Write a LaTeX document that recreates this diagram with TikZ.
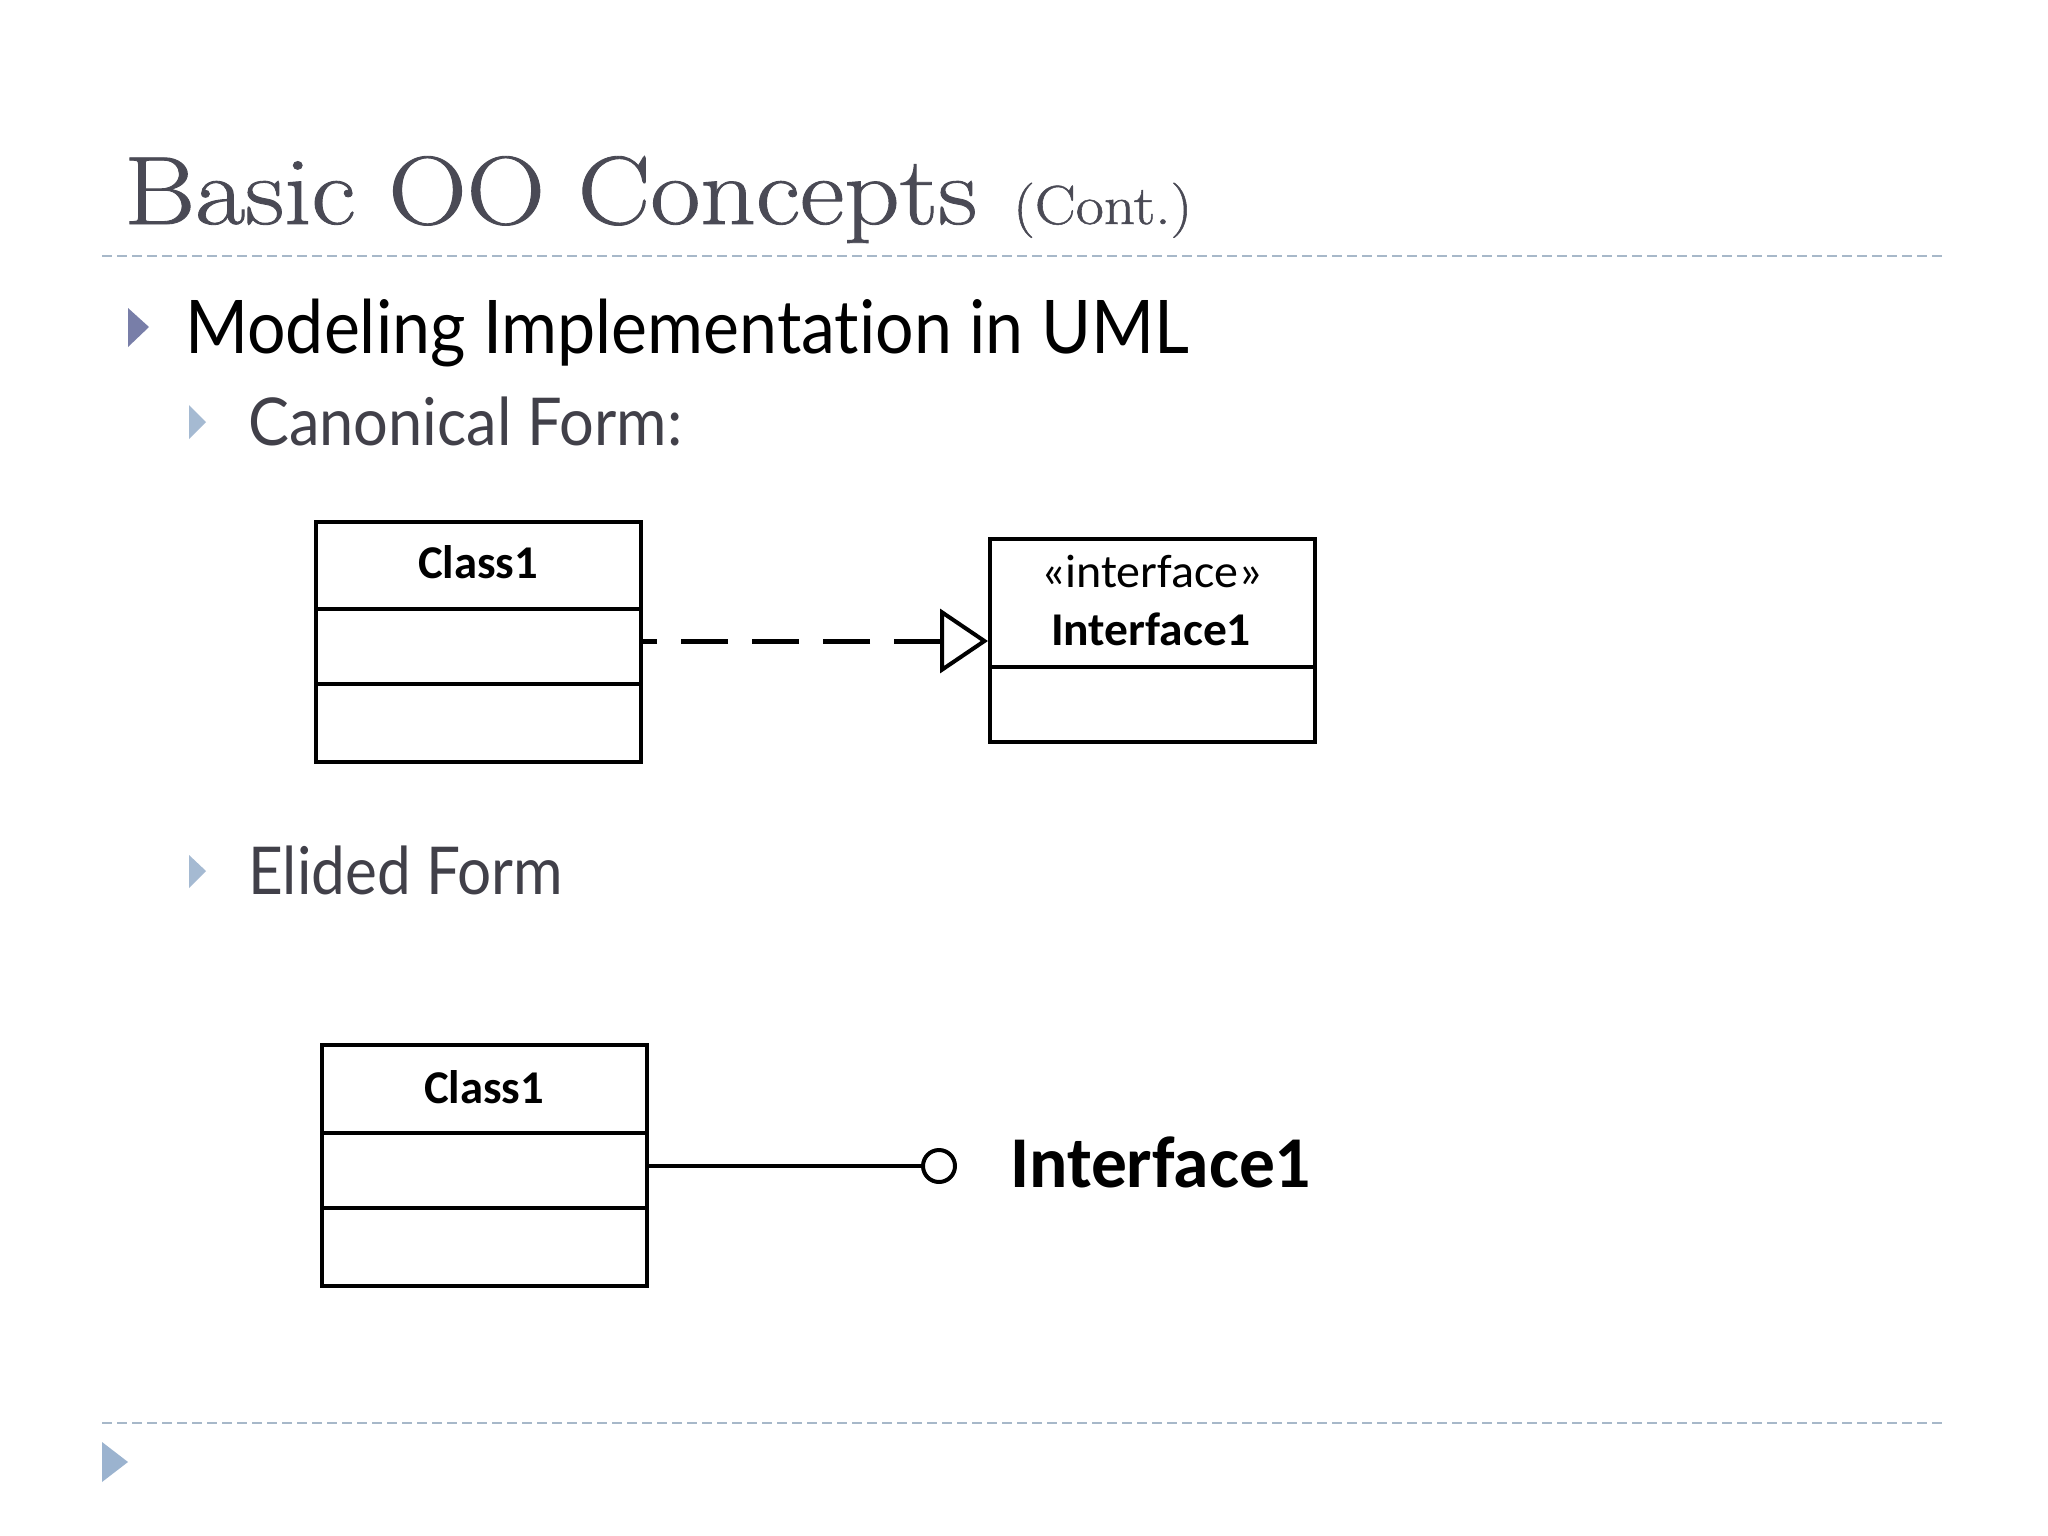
\documentclass[tikz,border=0pt]{standalone}
\usepackage{fontspec}
\usepackage{graphicx}
\usetikzlibrary{arrows.meta}
\newfontfamily\lato{Lato}[Ligatures=NoCommon]
\newfontfamily\carl{Carlito}
\newfontfamily\ttlfont{Latin Modern Roman}[FakeBold=0.9]
\newcommand{\fitw}[2]{\resizebox{#1}{\height}{#2}}
\definecolor{titlec}{HTML}{4A4A55}
\definecolor{subc}{HTML}{414049}
\definecolor{sepc}{HTML}{A7B8C9}
\definecolor{bulA}{HTML}{787EA8}
\definecolor{bulB}{HTML}{A5BAD2}
\definecolor{bulC}{HTML}{9BB3CF}
\tikzset{
  sepline/.style={draw=sepc, line width=2.5pt, dash pattern=on 10pt off 5pt},
  comp/.style={draw=black, line width=4pt, inner sep=0pt, minimum width=325pt},
  txt/.style={inner sep=0pt, anchor=base west},
  ctxt/.style={inner sep=0pt, anchor=base},
}
\begin{document}
\begin{tikzpicture}[x=1pt,y=-1pt]
\useasboundingbox[fill=white] (0,0) rectangle (2048,1536);

% title
\node[txt, text=titlec] (title) at (124,224) {\fitw{853pt}{\ttlfont\fontsize{97}{100}\selectfont Basic OO Concepts}};
\node[txt, text=titlec] (cont) at (1013,224) {\fitw{179pt}{\ttlfont\fontsize{55}{60}\selectfont (Cont.)}};

% separators
\draw[sepline] (102,256) -- (1946,256);
\draw[sepline] (102,1423) -- (1946,1423);

% bullets
\fill[bulA] (128,308) -- (149,327) -- (128,347) -- cycle;
\node[txt, text=black] (b1) at (185,353) {\fitw{1004pt}{\lato\fontsize{74}{80}\selectfont Modeling Implementation in UML}};
\fill[bulB] (189,405) -- (206,422) -- (189,439) -- cycle;
\node[txt, text=subc] (b2) at (248,445) {\fitw{434pt}{\lato\fontsize{66}{70}\selectfont Canonical Form:}};
\fill[bulB] (189,855) -- (206,871) -- (189,888) -- cycle;
\node[txt, text=subc] (b3) at (248,894) {\fitw{315pt}{\lato\fontsize{66}{70}\selectfont Elided Form}};
\fill[bulC] (102,1442) -- (128,1462) -- (102,1482) -- cycle;

% canonical form: Class1
\node[comp, minimum height=87pt] (c1n) at (478.5,565.5) {};
\node[comp, minimum height=75pt] (c1a) at (478.5,646.5) {};
\node[comp, minimum height=78pt] (c1o) at (478.5,723) {};
\node[ctxt] (c1t) at (478,578) {\fitw{120pt}{\carl\bfseries\fontsize{47}{50}\selectfont Class1}};

% canonical form: Interface1
\node[comp, minimum height=128pt] (i1n) at (1152.5,603) {};
\node[comp, minimum height=75pt] (i1o) at (1152.5,704.5) {};
\node[ctxt] (i1s) at (1152,587) {\fitw{222pt}{\carl\fontsize{47}{50}\selectfont «interface»}};
\node[ctxt] (i1t) at (1151,645) {\fitw{200pt}{\carl\bfseries\fontsize{47}{50}\selectfont Interface1}};

% realization arrow
\draw[line width=5pt, dash pattern=on 47pt off 24pt,
      {Triangle[open, length=48pt, width=64pt, line width=4pt]}-]
  (i1n.west |- 0,641) -- (c1a.east |- 0,641);

% elided form: Class1
\node[comp, minimum height=88pt] (c2n) at (484,1089) {};
\node[comp, minimum height=75pt] (c2a) at (484,1170.5) {};
\node[comp, minimum height=78pt] (c2o) at (484,1247) {};
\node[ctxt] (c2t) at (484,1103) {\fitw{120pt}{\carl\bfseries\fontsize{47}{50}\selectfont Class1}};

% lollipop
\node[circle, draw=black, line width=4pt, minimum size=32pt, inner sep=0pt] (lol) at (939,1166) {};
\draw[line width=4pt] (c2a.east |- lol) -- (lol.west);
\node[txt] (i2t) at (1010,1187) {\fitw{301pt}{\carl\bfseries\fontsize{73}{76}\selectfont Interface1}};
\end{tikzpicture}
\end{document}
